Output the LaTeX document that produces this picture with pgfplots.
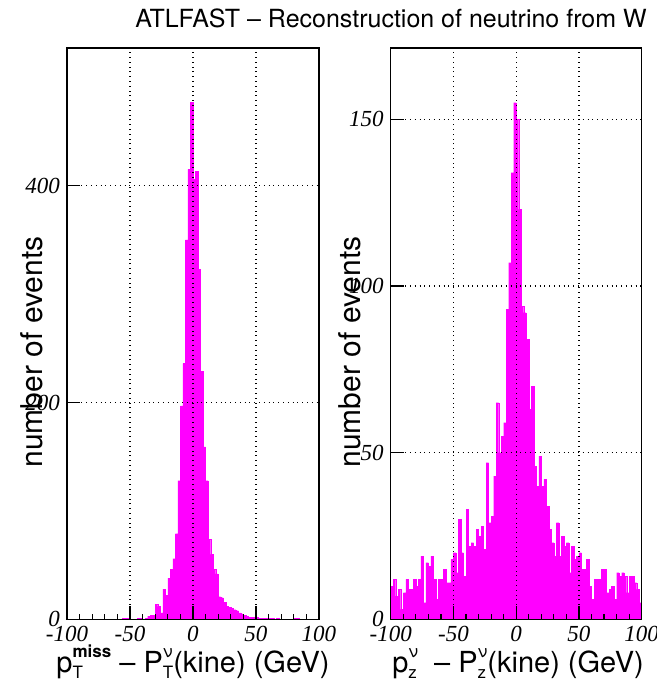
\documentclass[border=0pt]{standalone}
\usepackage{fontspec}
\setmainfont{TeX Gyre Heros}
\newfontfamily\tickfont{Liberation Serif}
\usepackage{pgfplots}
\pgfplotsset{compat=1.18}
\definecolor{histmag}{RGB}{255,0,255}

% superscript #1 stacked over subscript #2
\newcommand{\supsub}[2]{\setbox0\hbox{\fontsize{8.5}{8.5}\selectfont #1}\setbox2\hbox{\fontsize{8.5}{8.5}\selectfont #2}%
  \ifdim\wd0>\wd2 \rlap{\raisebox{-0.45ex}{\box2}}\raisebox{0.95ex}{\box0}%
  \else\rlap{\raisebox{0.95ex}{\box0}}\raisebox{-0.45ex}{\box2}\fi}

\pgfplotsset{hist/.style={
  scale only axis, height=285.7pt, anchor=south west,
  xmin=-100, xmax=100, ymin=0,
  xtick={-100,-50,0,50,100}, xticklabels={-100,-50,0,50,100},
  minor xtick={-90,-80,-70,-60,-40,-30,-20,-10,10,20,30,40,60,70,80,90},
  xtick pos=bottom, ytick pos=left, tick align=inside,
  major tick length=6.5pt, minor tick length=2.5pt,
  tick style={black, line width=0.6pt},
  grid=major, major grid style={black, dotted, line width=0.6pt},
  axis line style={line width=0.7pt},
  axis on top,
  /pgf/number format/assume math mode=true,
  ticklabel style={font=\tickfont\itshape\fontsize{11.5}{11.5}\selectfont},
}}

\begin{document}
\begin{tikzpicture}
\path[use as bounding box] (0,0) rectangle (328.5pt,340.5pt);

\begin{axis}[hist, at={(33.5pt,30.8pt)}, width=126pt, ymax=527,
  ytick={0,200,400}, yticklabels={0,200,400}]
\addplot[ybar interval, fill=histmag, draw=histmag, line width=0.1pt] coordinates {
(-100,0) (-98,0) (-96,0) (-94,0) (-92,0) (-90,0) (-88,0) (-86,0) (-84,0) (-82,0)
(-80,0) (-78,0) (-76,0) (-74,0) (-72,0) (-70,0) (-68,0) (-66,0) (-64,0) (-62,0)
(-60,0) (-58,0) (-56,1) (-54,1) (-52,1) (-50,0) (-48,0) (-46,0) (-44,1) (-42,1)
(-40,0) (-38,1) (-36,3) (-34,4) (-32,4) (-30,14) (-28,12) (-26,6) (-24,28) (-22,22)
(-20,38) (-18,46) (-16,56) (-14,79) (-12,128) (-10,197) (-8,236) (-6,350) (-4,415) (-2,477)
(0,406) (2,413) (4,323) (6,229) (8,159) (10,128) (12,74) (14,60) (16,46) (18,42)
(20,21) (22,20) (24,16) (26,12) (28,11) (30,10) (32,9) (34,8) (36,6) (38,5)
(40,4) (42,3) (44,2) (46,2) (48,2) (50,2) (52,1) (54,1) (56,1) (58,1)
(60,1) (62,1) (64,0) (66,1) (68,0) (70,0) (72,0) (74,0) (76,0) (78,0)
(80,1) (82,1) (84,0) (86,0) (88,0) (90,0) (92,0) (94,0) (96,0) (98,0)
(100,0)};
\end{axis}

\begin{axis}[hist, at={(195.35pt,30.8pt)}, width=125.5pt, ymax=171.4,
  ytick={0,50,100,150}, yticklabels={0,50,100,150}]
\addplot[ybar interval, fill=histmag, draw=histmag, line width=0.1pt] coordinates {
(-100,10) (-98,12) (-96,7) (-94,9) (-92,3) (-90,8) (-88,12) (-86,9) (-84,9) (-82,12)
(-80,10) (-78,12) (-76,19) (-74,5) (-72,17) (-70,16) (-68,19) (-66,12) (-64,6) (-62,12)
(-60,12) (-58,15) (-56,11) (-54,11) (-52,18) (-50,20) (-48,14) (-46,30) (-44,20) (-42,13)
(-40,33) (-38,22) (-36,23) (-34,22) (-32,27) (-30,25) (-28,28) (-26,21) (-24,47) (-22,29)
(-20,31) (-18,43) (-16,65) (-14,50) (-12,55) (-10,59) (-8,93) (-6,107) (-4,134) (-2,155)
(0,150) (2,123) (4,94) (6,92) (8,84) (10,63) (12,70) (14,46) (16,40) (18,49)
(20,40) (22,42) (24,34) (26,27) (28,23) (30,19) (32,29) (34,19) (36,25) (38,22)
(40,23) (42,14) (44,22) (46,18) (48,19) (50,20) (52,15) (54,15) (56,18) (58,10)
(60,6) (62,12) (64,12) (66,12) (68,15) (70,15) (72,8) (74,9) (76,10) (78,6)
(80,14) (82,13) (84,14) (86,13) (88,8) (90,13) (92,13) (94,11) (96,9) (98,5)
(100,5)};
\end{axis}

\begin{scope}[x=0.5pt, y=-0.5pt, shift={(0,340.5pt)}]
\node[font=\fontsize{12.5}{14}\selectfont] at (391,18) {ATLFAST -- Reconstruction of neutrino from W};
\node[rotate=90, font=\fontsize{15}{16}\selectfont] at (32,352) {number of events};
\node[rotate=90, font=\fontsize{15}{16}\selectfont] at (350,352) {number of events};
\node[font=\fontsize{14.5}{16}\selectfont, anchor=base] at (193,672)
  {p\supsub{\textbf{miss}}{T} -- P\supsub{ν}{T}(kine) (GeV)};
\node[font=\fontsize{14.5}{16}\selectfont, anchor=base] at (518,672)
  {p\supsub{ν}{z}\; -- P\supsub{ν}{z}(kine) (GeV)};
\end{scope}
\end{tikzpicture}
\end{document}
